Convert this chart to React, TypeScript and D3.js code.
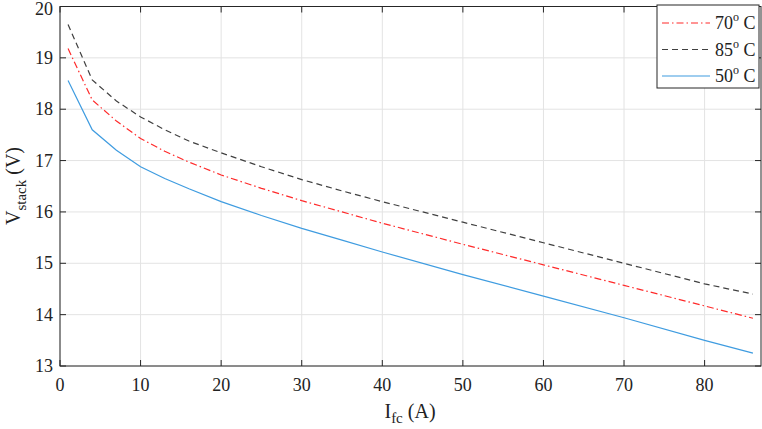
import * as d3 from 'd3';

const currents = [1, 4, 7, 10, 13, 16, 20, 25, 30, 35, 40, 50, 60, 70, 80, 86];
const v50 = [18.56, 17.6, 17.2, 16.88, 16.65, 16.45, 16.2, 15.93, 15.68, 15.45, 15.22, 14.78, 14.36, 13.94, 13.5, 13.25];
const v70 = [19.18, 18.18, 17.77, 17.43, 17.18, 16.97, 16.72, 16.46, 16.22, 16.0, 15.78, 15.37, 14.97, 14.57, 14.17, 13.93];
const v85 = [19.65, 18.57, 18.16, 17.85, 17.6, 17.38, 17.15, 16.88, 16.63, 16.41, 16.2, 15.8, 15.4, 15.0, 14.6, 14.4];
const xTicks = [0, 10, 20, 30, 40, 50, 60, 70, 80];
const yTicks = [13, 14, 15, 16, 17, 18, 19, 20];

const series = [
  { label: '70', values: v70, color: '#ff2a2a', dash: '7,3,1.5,3' },
  { label: '85', values: v85, color: '#404040', dash: '6,4' },
  { label: '50', values: v50, color: '#3f9ce0', dash: null },
];

const W = 762, H = 429;
const left = 60, right = 761, top = 6.5, bottom = 366;
const font = "'Liberation Serif', 'Times New Roman', serif";
const axisColor = '#262626';

export default function App() {
  const x = d3.scaleLinear().domain([0, 87]).range([left, right]);
  const y = d3.scaleLinear().domain([13, 20]).range([bottom, top]);
  const line = d3.line<number>().x((_, i) => x(currents[i])).y((d) => y(d));

  return (
    <svg width={W} height={H} style={{ position: 'absolute', left: 0, top: 0, background: '#fff' }}>
      {/* grid */}
      {xTicks.map((t) => (
        <line key={'gx' + t} x1={x(t)} x2={x(t)} y1={top} y2={bottom} stroke="#e3e3e3" />
      ))}
      {yTicks.map((t) => (
        <line key={'gy' + t} x1={left} x2={right} y1={y(t)} y2={y(t)} stroke="#e3e3e3" />
      ))}
      {/* curves */}
      {series.map((s) => (
        <path key={s.label} d={line(s.values) || ''} fill="none" stroke={s.color}
          strokeWidth={1.2} strokeDasharray={s.dash || undefined} />
      ))}
      {/* box */}
      <rect x={left} y={top} width={right - left} height={bottom - top} fill="none" stroke={axisColor} strokeWidth={1} />
      {/* ticks */}
      {xTicks.map((t) => (
        <g key={'tx' + t}>
          <line x1={x(t)} x2={x(t)} y1={bottom} y2={bottom - 6} stroke={axisColor} />
          <line x1={x(t)} x2={x(t)} y1={top} y2={top + 6} stroke={axisColor} />
          <text x={x(t)} y={bottom + 25} textAnchor="middle" fontFamily={font} fontSize={18} fill="#222">{t}</text>
        </g>
      ))}
      {yTicks.map((t) => (
        <g key={'ty' + t}>
          <line x1={left} x2={left + 6} y1={y(t)} y2={y(t)} stroke={axisColor} />
          <line x1={right} x2={right - 6} y1={y(t)} y2={y(t)} stroke={axisColor} />
          <text x={left - 7} y={Math.max(y(t) + 6, 15)} textAnchor="end" fontFamily={font} fontSize={18} fill="#222">{t}</text>
        </g>
      ))}
      {/* axis labels */}
      <text x={410} y={418} textAnchor="middle" fontFamily={font} fontSize={20} fill="#222">
        I<tspan fontSize={15} dy={5}>fc</tspan><tspan dy={-5}> (A)</tspan>
      </text>
      <text transform={`translate(20, 186) rotate(-90)`} textAnchor="middle" fontFamily={font} fontSize={20} fill="#222">
        V<tspan fontSize={15} dy={6}>stack</tspan><tspan dy={-6}> (V)</tspan>
      </text>
      {/* legend */}
      <rect x={657} y={5} width={102} height={83} fill="#fff" stroke={axisColor} />
      {series.map((s, i) => {
        const ly = 23 + i * 26.5;
        return (
          <g key={'lg' + s.label}>
            <line x1={662} x2={710} y1={ly} y2={ly} stroke={s.color} strokeWidth={1.2} strokeDasharray={s.dash || undefined} />
            <text x={715} y={ly + 6} fontFamily={font} fontSize={18} fill="#222">
              {s.label}<tspan fontSize={12} dy={-8}>o</tspan><tspan dy={8}> C</tspan>
            </text>
          </g>
        );
      })}
    </svg>
  );
}
